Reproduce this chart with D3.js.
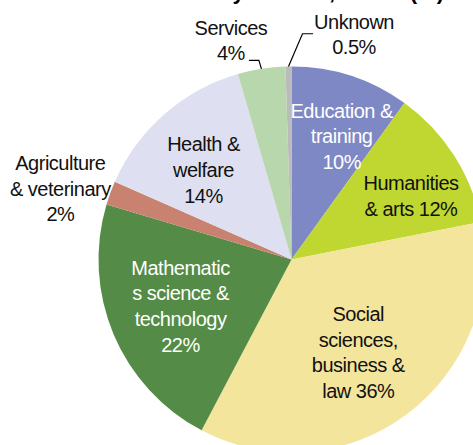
<!DOCTYPE html>
<html>
<head>
<meta charset="utf-8">
<script src="https://cdn.jsdelivr.net/npm/d3@7"></script>
<style>
  html, body { margin: 0; padding: 0; background: #fff; overflow: hidden; }
  text { font-family: "Liberation Sans", Arial, sans-serif; }
</style>
</head>
<body>
<svg id="chart" width="473" height="445"></svg>
<script>
// ---- data ----
const fields = [
  "Education & training",
  "Humanities & arts",
  "Social sciences, business & law",
  "Mathematics science & technology",
  "Agriculture & veterinary",
  "Health & welfare",
  "Services",
  "Unknown"
];
const shares = [10, 12, 36, 22, 2, 14, 4, 0.5];
// label lines; {v} is replaced by the slice's share
const labelLines = [
  ["Education &", "training", "{v}"],
  ["Humanities", "& arts {v}"],
  ["Social", "sciences,", "business &", "law {v}"],
  ["Mathematic", "s science &", "technology", "{v}"],
  ["Agriculture", "& veterinary", "{v}"],
  ["Health &", "welfare", "{v}"],
  ["Services", "{v}"],
  ["Unknown", "{v}"]
];
const titleText = "Graduates by domain, EU-27 (%)";

// ---- styling / layout ----
const fills = ["#7d88c4", "#bfd730", "#f4e59d", "#548b46", "#c8826f", "#dedff0", "#b9d7ac", "#bbbbbb"];
const inks  = ["#ffffff", "#111111", "#111111", "#ffffff", "#111111", "#111111", "#111111", "#111111"];
// label block placement: radius factor along the slice's mid angle, plus a nudge
const labelLayout = [
  { rf: 0.66, dx: 11,   dy: -2 },
  { rf: 0.66, dx: 12.3, dy: 5 },
  { rf: 0.66, dx: -9.4, dy: -9.3 },
  { rf: 0.66, dx: 6.4,  dy: -2.8 },
  { rf: 1.25, dx: -4.7, dy: 12.2 },
  { rf: 0.66, dx: -4.1, dy: 6.1 },
  { rf: 1.25, dx: -23,  dy: 19.3, leader: { line: 1, side: "end",   gap: 4, yOff: 0, run: 10 } },
  { rf: 1.25, dx: 66.3, dy: 16.1, leader: { line: 0, side: "start", gap: 1, yOff: 5, run: 10.6 } }
];

const W = 473, H = 445;
const cx = 291.5, cy = 259.5, R = 193;
const fontSize = 20, lineH = 25.6, capH = 14.3;

const svg = d3.select("#chart");

// title (sits above the frame, mostly clipped)
svg.append("text")
  .attr("x", 444).attr("y", -1)
  .attr("text-anchor", "end")
  .attr("font-size", 22)
  .attr("font-weight", "bold")
  .attr("fill", "#000")
  .text(titleText);

const pie = d3.pie().sort(null).value(d => d)
  .startAngle(0).endAngle(2 * Math.PI);
const arcs = pie(shares);
const arc = d3.arc().innerRadius(0).outerRadius(R);

const g = svg.append("g").attr("transform", `translate(${cx},${cy})`);

g.selectAll("path.slice")
  .data(arcs)
  .join("path")
  .attr("class", "slice")
  .attr("d", arc)
  .attr("fill", (d, i) => fills[i]);

const fmt = v => `${v}%`;

arcs.forEach((a, i) => {
  const lay = labelLayout[i];
  const mid = (a.startAngle + a.endAngle) / 2;
  const bx = Math.sin(mid) * R * lay.rf + lay.dx;
  const by = -Math.cos(mid) * R * lay.rf + lay.dy;
  const lines = labelLines[i].map(s => s.replace("{v}", fmt(shares[i])));
  const n = lines.length;
  const firstBase = by - (n - 1) * lineH / 2 + capH / 2;

  const lg = g.append("g").attr("class", "label");
  const texts = lines.map((s, k) =>
    lg.append("text")
      .attr("x", bx)
      .attr("y", firstBase + k * lineH)
      .attr("text-anchor", "middle")
      .attr("font-size", fontSize)
      .attr("letter-spacing", "-0.5px")
      .attr("fill", inks[i])
      .text(s)
  );

  if (lay.leader) {
    const L = lay.leader;
    const w = texts[L.line].node().getComputedTextLength();
    const sx = L.side === "end" ? bx + w / 2 + L.gap : bx - w / 2 - L.gap;
    const sy = firstBase + L.line * lineH + L.yOff;
    const ex = L.side === "end" ? sx + L.run : sx - L.run;
    const tx = Math.sin(mid) * R, ty = -Math.cos(mid) * R;
    g.append("path")
      .attr("d", d3.line()([[sx, sy], [ex, sy], [tx, ty]]))
      .attr("fill", "none")
      .attr("stroke", "#000")
      .attr("stroke-width", 1.2);
  }
});
</script>
</body>
</html>
